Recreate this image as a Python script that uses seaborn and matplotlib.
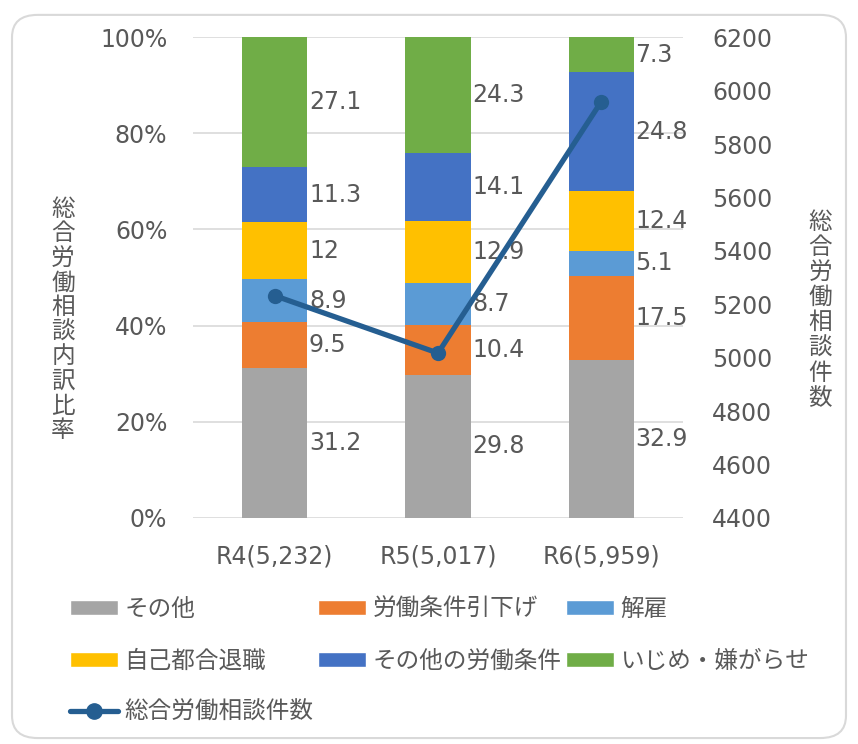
import numpy as np
import pandas as pd
import matplotlib
matplotlib.use("Agg")
import matplotlib.pyplot as plt
import seaborn as sns
from matplotlib.patches import FancyBboxPatch, Patch
from matplotlib.lines import Line2D

# data
years = ["R4(5,232)", "R5(5,017)", "R6(5,959)"]
categories = ["その他", "労働条件引下げ", "解雇", "自己都合退職", "その他の労働条件", "いじめ・嫌がらせ"]
sonota = [31.2, 29.8, 32.9]
hikisage = [9.5, 10.4, 17.5]
kaiko = [8.9, 8.7, 5.1]
jiko = [12, 12.9, 12.4]
sonota_joken = [11.3, 14.1, 24.8]
ijime = [27.1, 24.3, 7.3]
counts = [5232, 5017, 5959]

colors = ["#A5A5A5", "#ED7D31", "#5B9BD5", "#FFC000", "#4472C4", "#70AD47"]
line_color = "#255E91"
txt = "#595959"

sns.set_theme(style="white")
plt.rcParams['font.family'] = ['DejaVu Sans', 'Noto Sans CJK JP']

series = [sonota, hikisage, kaiko, jiko, sonota_joken, ijime]
df = pd.DataFrame(series, index=categories, columns=years)
cum = df.cumsum()

fig = plt.figure(figsize=(8.58, 7.44), dpi=100)
ax = fig.add_axes([0.225, 0.304, 0.571, 0.646])

# draw cumulative bars from top layer down so each covers the one below
for i in range(len(categories) - 1, -1, -1):
    d = pd.DataFrame({"year": years, "val": cum.iloc[i].values})
    sns.barplot(data=d, x="year", y="val", color=colors[i], width=0.4,
                saturation=1, linewidth=0, ax=ax, zorder=2)

# data labels to the right of each bar, at segment middle
for j, yr in enumerate(years):
    for i, cat in enumerate(categories):
        v = df.loc[cat, yr]
        top = min(cum.iloc[i, j], 100)
        bot = cum.iloc[i, j] - v
        mid = (bot + top) / 2
        ax.text(j + 0.21, mid, f"{v:g}", ha="left", va="center", fontsize=17,
                color=txt, zorder=5)

ax.set_ylim(0, 100)
ax.set_xlim(-0.5, 2.5)
ax.set_yticks(np.arange(0, 101, 20))
ax.set_yticklabels([f"{t}%" for t in range(0, 101, 20)])
ax.yaxis.grid(True, color="#D9D9D9", linewidth=1.2, zorder=0)
ax.set_axisbelow(True)
for s in ax.spines.values():
    s.set_visible(False)
ax.tick_params(axis="y", length=0, pad=18.5, labelsize=17, labelcolor=txt)
ax.tick_params(axis="x", length=0, pad=19, labelsize=17, labelcolor=txt)
ax.set_xlabel("")
ax.set_ylabel("")

# secondary axis with the count line
ax2 = ax.twinx()
sns.lineplot(x=[0, 1, 2], y=counts, ax=ax2, color=line_color, linewidth=3.8,
             marker="o", markersize=11, markeredgewidth=0, zorder=4)
ax2.set_ylim(4400, 6200)
ax2.set_yticks(np.arange(4400, 6201, 200))
ax2.set_xlim(-0.5, 2.5)
for s in ax2.spines.values():
    s.set_visible(False)
ax2.tick_params(axis="y", length=0, pad=21, labelsize=17, labelcolor=txt)
ax2.grid(False)

# vertical stacked axis titles
fig.text(0.0734, 0.570, "\n".join("総合労働相談内訳比率"), ha="center", va="center",
         fontsize=17, color=txt, linespacing=1.09, family="Noto Sans CJK JP")
fig.text(0.956, 0.583, "\n".join("総合労働相談件数"), ha="center", va="center",
         fontsize=17, color=txt, linespacing=1.12, family="Noto Sans CJK JP")

# legend
patches = [Patch(facecolor=c, label=l) for c, l in zip(colors, categories)]
line_h = Line2D([], [], color=line_color, linewidth=3.8, marker="o",
                markersize=11, label="総合労働相談件数")
handles = [patches[0], patches[3], line_h, patches[1], patches[4], patches[2], patches[5]]
leg = fig.legend(handles=handles, labels=[h.get_label() for h in handles],
                 ncol=3, loc="upper left", bbox_to_anchor=(0.0816, 0.196),
                 frameon=False, handlelength=2.03, handleheight=0.6,
                 handletextpad=0.27, columnspacing=0.2, labelspacing=1.2,
                 borderpad=0, borderaxespad=0,
                 prop={"family": "Noto Sans CJK JP", "size": 17})
for t in leg.get_texts():
    t.set_color(txt)

# rounded outer border
fig.patches.append(FancyBboxPatch((0.014, 0.008), 0.972, 0.972,
                                  boxstyle="round,pad=0,rounding_size=0.03",
                                  transform=fig.transFigure, facecolor="none",
                                  edgecolor="#D9D9D9", linewidth=1.5))

fig.savefig("out.png", dpi=100)
